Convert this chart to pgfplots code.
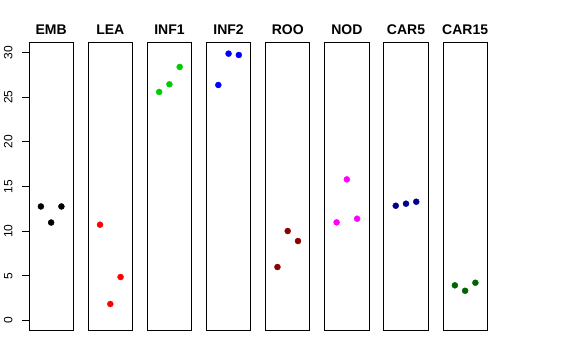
\documentclass[border=0pt]{standalone}
\usepackage{fontspec}
\setmainfont{Liberation Sans}
\usepackage{graphicx}
\usepackage{pgfplots}
\pgfplotsset{compat=1.18}
\definecolor{cgreen}{HTML}{00CD00}
\definecolor{cdarkred}{HTML}{8B0000}
\definecolor{cnavy}{HTML}{00008B}
\definecolor{cdkgreen}{HTML}{006400}
\definecolor{cmag}{HTML}{FF00FF}
\definecolor{cred}{HTML}{FF0000}
\definecolor{cblue}{HTML}{0000FF}
\pgfplotsset{
  every axis title/.style={at={(0.5,1)}, anchor=base, yshift=8bp, inner sep=0pt,
      font=\fontsize{14bp}{16bp}\selectfont\bfseries},
  panel/.style={
    scale only axis, width=44.3bp, height=288.4bp,
    xmin=-0.16, xmax=4.16, ymin=-1.16, ymax=31.13,
    xtick=\empty, ytick=\empty,
    axis line style={line width=0.8bp, black},
    clip=false,
    anchor=south west,
  },
  pts/.style={only marks, mark=*, mark size=3bp, mark options={draw=#1, fill=#1}},
}
\begin{document}
\begin{tikzpicture}
\useasboundingbox[fill=white] (0,0) rectangle (576bp,360bp);
\begin{axis}[panel, at={(29bp,29.3bp)}, title={EMB},
  ytick={0,5,10,15,20,25,30}, tick align=outside, major tick length=7bp,
  tick style={line width=0.8bp, black}, ytick pos=left,
  yticklabel={\rotatebox{90}{\pgfmathprintnumber[assume math mode=true]{\tick}}},
  yticklabel style={anchor=east, inner sep=0pt, xshift=-9.3bp, font=\fontsize{12bp}{14bp}\selectfont}]
\addplot[pts=black] coordinates {(1,12.75) (2,10.95) (3,12.75)};
\end{axis}
\begin{axis}[panel, at={(88.14bp,29.3bp)}, title={LEA}]
\addplot[pts=cred] coordinates {(1,10.71) (2,1.83) (3,4.85)};
\end{axis}
\begin{axis}[panel, at={(147.28bp,29.3bp)}, title={INF1}]
\addplot[pts=cgreen] coordinates {(1,25.57) (2,26.43) (3,28.37)};
\end{axis}
\begin{axis}[panel, at={(206.42bp,29.3bp)}, title={INF2}]
\addplot[pts=cblue] coordinates {(1,26.35) (2,29.86) (3,29.71)};
\end{axis}
\begin{axis}[panel, at={(265.56bp,29.3bp)}, title={ROO}]
\addplot[pts=cdarkred] coordinates {(1,5.97) (2,10.0) (3,8.88)};
\end{axis}
\begin{axis}[panel, at={(324.7bp,29.3bp)}, title={NOD}]
\addplot[pts=cmag] coordinates {(1,10.97) (2,15.78) (3,11.38)};
\end{axis}
\begin{axis}[panel, at={(383.84bp,29.3bp)}, title={CAR5}]
\addplot[pts=cnavy] coordinates {(1,12.83) (2,13.06) (3,13.28)};
\end{axis}
\begin{axis}[panel, at={(442.98bp,29.3bp)}, title={CAR15}]
\addplot[pts=cdkgreen] coordinates {(1,3.92) (2,3.31) (3,4.21)};
\end{axis}
\end{tikzpicture}
\end{document}
